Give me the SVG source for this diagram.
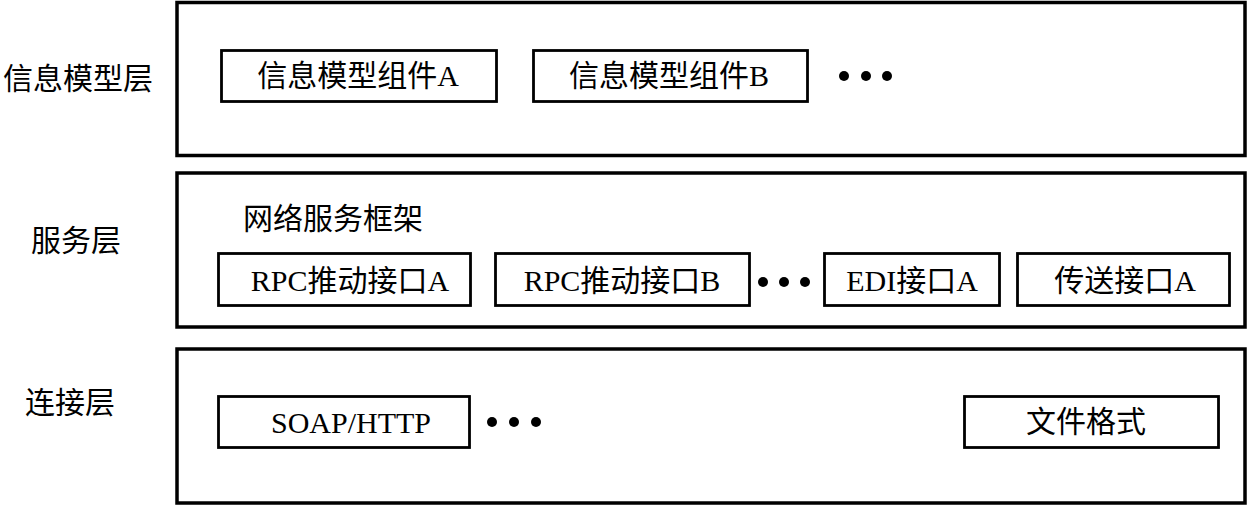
<svg xmlns="http://www.w3.org/2000/svg" width="1248" height="506" viewBox="0 0 1248 506">
<style>
.layer{fill:#fff;stroke:#000;stroke-width:3.5}
.box{fill:#fff;stroke:#000;stroke-width:2.8}
text{font-family:"Liberation Serif","Noto Sans CJK SC",serif;font-size:30px;fill:#000}
.c{text-anchor:middle}
.dot{fill:#000}
</style>
<rect width="1248" height="506" fill="#fff"/>
<g id="layer-info">
<rect class="layer" x="177" y="2.5" width="1068" height="153"/>
<text x="78" y="89" class="c">信息模型层</text>
</g>
<g id="layer-service">
<rect class="layer" x="177" y="173" width="1068" height="154"/>
<text x="76" y="251" class="c">服务层</text>
<text x="243" y="229" font-size="27">网络服务框架</text>
</g>
<g id="layer-connect">
<rect class="layer" x="177" y="349" width="1068" height="154"/>
<text x="70" y="413" class="c">连接层</text>
</g>
<g id="info-a"><rect class="box" x="221.5" y="50.5" width="275" height="51"/><text x="358" y="86" class="c">信息模型组件A</text></g>
<g id="info-b"><rect class="box" x="533.5" y="50.5" width="274" height="51"/><text x="669" y="86" class="c">信息模型组件B</text></g>
<g id="info-dots"><circle class="dot" cx="844" cy="76" r="5"/><circle class="dot" cx="866" cy="76" r="5"/><circle class="dot" cx="887" cy="76" r="5"/></g>
<g id="rpc-a"><rect class="box" x="218.5" y="253.5" width="252" height="52"/><text x="350" y="291" class="c" font-size="31">RPC推动接口A</text></g>
<g id="rpc-b"><rect class="box" x="495.5" y="253.5" width="254" height="52"/><text x="622" y="291" class="c" font-size="31">RPC推动接口B</text></g>
<g id="service-dots"><circle class="dot" cx="763" cy="282" r="5"/><circle class="dot" cx="784" cy="282" r="5"/><circle class="dot" cx="805" cy="282" r="5"/></g>
<g id="edi-a"><rect class="box" x="824.5" y="253.5" width="175" height="52"/><text x="912" y="291" class="c" font-size="31">EDI接口A</text></g>
<g id="transfer-a"><rect class="box" x="1017.5" y="253.5" width="212" height="52"/><text x="1125" y="291" class="c" font-size="31">传送接口A</text></g>
<g id="soap"><rect class="box" x="218.5" y="396.5" width="251" height="51"/><text x="351" y="433" class="c" font-size="31">SOAP/HTTP</text></g>
<g id="connect-dots"><circle class="dot" cx="492" cy="422" r="5"/><circle class="dot" cx="514" cy="422" r="5"/><circle class="dot" cx="536" cy="422" r="5"/></g>
<g id="file-format"><rect class="box" x="964.5" y="396.5" width="254" height="51"/><text x="1086" y="432" class="c">文件格式</text></g>
<g id="connectors"></g>
</svg>
